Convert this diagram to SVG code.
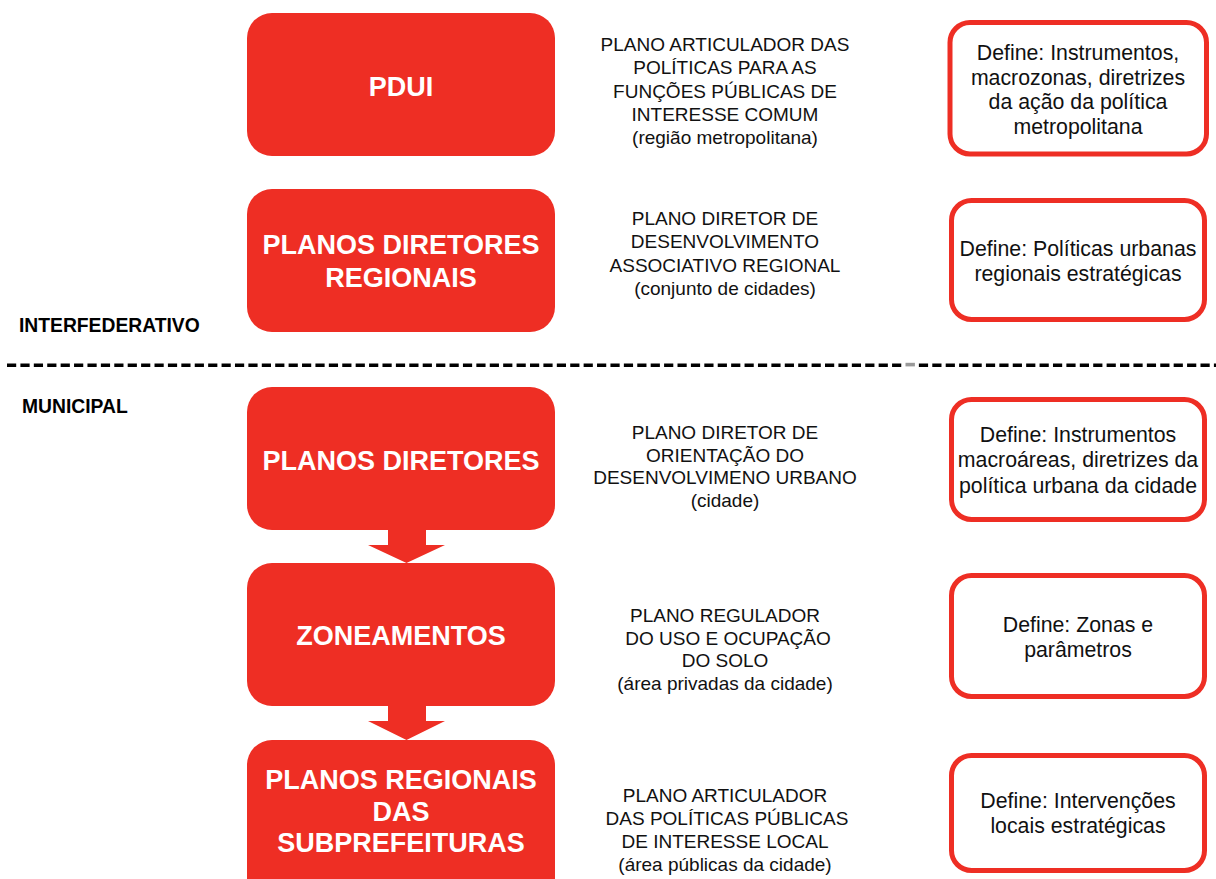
<svg xmlns="http://www.w3.org/2000/svg" width="1216" height="879" viewBox="0 0 1216 879">
<style>
.red{fill:#EE2E24}
.out{fill:#fff;stroke:#EE2E24;stroke-width:5}
.t{font-family:"Liberation Sans",Arial,sans-serif;text-anchor:middle}
.rt{font-size:27px;font-weight:bold;fill:#fff}
.mt{font-size:19px;fill:#111}
.ot{font-size:21.3px;fill:#111}
.lab{font-family:"Liberation Sans",Arial,sans-serif;font-size:19.3px;font-weight:bold;fill:#000}
</style>
<rect width="1216" height="879" fill="#fff"/>

<g id="connectors">
<polygon class="red" points="388,520 426,520 426,545 445,545 406.5,563 368,545 388,545"/>
<polygon class="red" points="388,696 426,696 426,721 445,721 406.5,740 368,721 388,721"/>
<line x1="7" y1="365.3" x2="1216" y2="365.3" stroke="#000" stroke-width="3.6" stroke-dasharray="9.2 4.21"/>
<rect x="904" y="362" width="12" height="7" fill="#fff"/>
<rect x="905.5" y="362.8" width="9.4" height="3.6" fill="#9a9a9a"/>
</g>

<g id="lbl-interfederativo"><text class="lab" x="19" y="332">INTERFEDERATIVO</text></g>
<g id="lbl-municipal"><text class="lab" x="22" y="413">MUNICIPAL</text></g>

<g id="pdui">
<rect class="red" x="247" y="13" width="308" height="143" rx="25"/>
<text class="t rt" x="401" y="96">PDUI</text>
</g>
<g id="pdui-desc">
<text class="t mt" x="725"><tspan x="725" y="51">PLANO ARTICULADOR DAS</tspan><tspan x="725" y="74">POLÍTICAS PARA AS</tspan><tspan x="725" y="98">FUNÇÕES PÚBLICAS DE</tspan><tspan x="725" y="121">INTERESSE COMUM</tspan><tspan x="725" y="144">(região metropolitana)</tspan></text>
</g>
<g id="pdui-def">
<rect class="out" x="950" y="22.5" width="256.5" height="131.5" rx="20"/>
<text class="t ot"><tspan x="1078" y="60">Define: Instrumentos,</tspan><tspan x="1078" y="85">macrozonas, diretrizes</tspan><tspan x="1078" y="109">da ação da política</tspan><tspan x="1078" y="134">metropolitana</tspan></text>
</g>

<g id="pdr">
<rect class="red" x="247" y="189" width="308" height="143" rx="25"/>
<text class="t rt"><tspan x="401" y="254">PLANOS DIRETORES</tspan><tspan x="401" y="287">REGIONAIS</tspan></text>
</g>
<g id="pdr-desc">
<text class="t mt"><tspan x="725" y="225">PLANO DIRETOR DE</tspan><tspan x="725" y="248">DESENVOLVIMENTO</tspan><tspan x="725" y="272">ASSOCIATIVO REGIONAL</tspan><tspan x="725" y="295">(conjunto de cidades)</tspan></text>
</g>
<g id="pdr-def">
<rect class="out" x="951.5" y="200.5" width="253" height="119" rx="20"/>
<text class="t ot"><tspan x="1078" y="256">Define: Políticas urbanas</tspan><tspan x="1078" y="281">regionais estratégicas</tspan></text>
</g>

<g id="pd">
<rect class="red" x="247" y="387" width="308" height="143" rx="25"/>
<text class="t rt" x="401" y="470">PLANOS DIRETORES</text>
</g>
<g id="pd-desc">
<text class="t mt"><tspan x="725" y="439">PLANO DIRETOR DE</tspan><tspan x="725" y="462">ORIENTAÇÃO DO</tspan><tspan x="725" y="484">DESENVOLVIMENO URBANO</tspan><tspan x="725" y="507">(cidade)</tspan></text>
</g>
<g id="pd-def">
<rect class="out" x="951.5" y="399.5" width="253" height="120" rx="20"/>
<text class="t ot"><tspan x="1078" y="442">Define: Instrumentos</tspan><tspan x="1078" y="467">macroáreas, diretrizes da</tspan><tspan x="1078" y="493">política urbana da cidade</tspan></text>
</g>

<g id="zon">
<rect class="red" x="247" y="563" width="308" height="143" rx="25"/>
<text class="t rt" x="401" y="645">ZONEAMENTOS</text>
</g>
<g id="zon-desc">
<text class="t mt"><tspan x="725" y="622">PLANO REGULADOR</tspan><tspan x="728" y="645">DO USO E OCUPAÇÃO</tspan><tspan x="725" y="667">DO SOLO</tspan><tspan x="725" y="690">(área privadas da cidade)</tspan></text>
</g>
<g id="zon-def">
<rect class="out" x="951.5" y="575.5" width="253" height="121" rx="20"/>
<text class="t ot"><tspan x="1078" y="632">Define: Zonas e</tspan><tspan x="1078" y="657">parâmetros</tspan></text>
</g>

<g id="prs">
<rect class="red" x="247" y="740" width="308" height="170" rx="25"/>
<text class="t rt"><tspan x="401" y="789">PLANOS REGIONAIS</tspan><tspan x="401" y="821">DAS</tspan><tspan x="401" y="852">SUBPREFEITURAS</tspan></text>
</g>
<g id="prs-desc">
<text class="t mt"><tspan x="725" y="802">PLANO ARTICULADOR</tspan><tspan x="727" y="825">DAS POLÍTICAS PÚBLICAS</tspan><tspan x="725" y="848">DE INTERESSE LOCAL</tspan><tspan x="725" y="871">(área públicas da cidade)</tspan></text>
</g>
<g id="prs-def">
<rect class="out" x="951.5" y="755.5" width="253" height="115" rx="20"/>
<text class="t ot"><tspan x="1078" y="808">Define: Intervenções</tspan><tspan x="1078" y="833">locais estratégicas</tspan></text>
</g>
</svg>
